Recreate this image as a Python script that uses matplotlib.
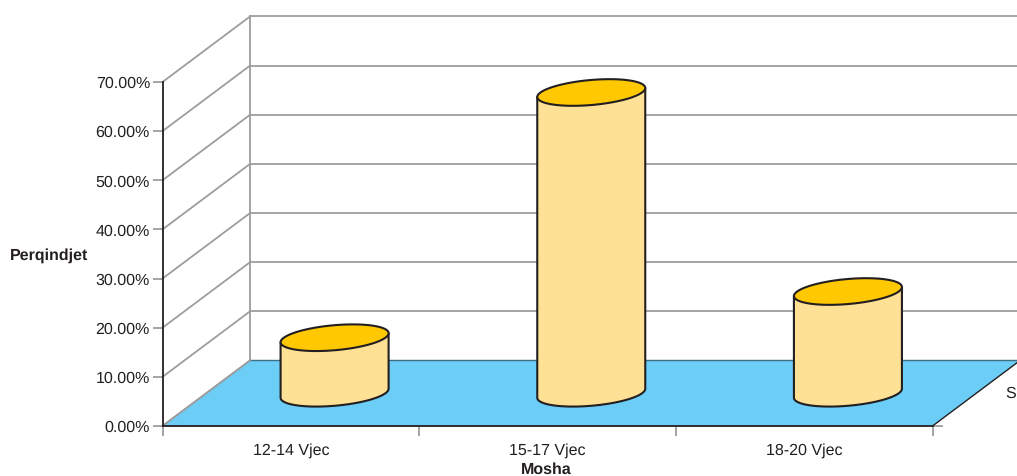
import numpy as np
import matplotlib
matplotlib.use("Agg")
import matplotlib.pyplot as plt
from matplotlib.patches import Polygon
from matplotlib.transforms import ScaledTranslation

plt.rcParams['font.family'] = ['Liberation Sans', 'DejaVu Sans']
plt.rcParams['text.hinting'] = 'no_hinting'
plt.rcParams['text.hinting_factor'] = 1

categories = ["12-14 Vjec", "15-17 Vjec", "18-20 Vjec"]
values = [11.3, 61.2, 20.7]
y_ticks = [0, 10, 20, 30, 40, 50, 60, 70]

DARK = "#231f20"
GRAY = "#9d9d9f"
FLOOR = "#6ccdf7"
BODY = "#ffe196"
TOP = "#ffc800"

# depth of the fake 3d box, in data units
depth_x = 0.341
depth_y = 13.33
# cylinder ellipse: half width, half height, tilt
ell_a = 0.2104
ell_b = 2.55
ell_s = 0.92


def ellipse_arc(cx, cy, t):
    return cx + ell_a * np.cos(t), cy + ell_s * np.cos(t) + ell_b * np.sin(t)


def draw_cylinder(ax, pos, value):
    cx = pos + 0.5 + depth_x / 2
    base = depth_y / 2
    top = base + value

    t = np.linspace(np.pi, 2 * np.pi, 60)
    bx, by = ellipse_arc(cx, base, t)
    body = np.vstack([[cx - ell_a, top - ell_s], np.column_stack([bx, by]), [cx + ell_a, top + ell_s]])
    ax.add_patch(Polygon(body, closed=True, facecolor=BODY, edgecolor=DARK, linewidth=1.5,
                         joinstyle="round", zorder=5, clip_on=False))

    t = np.linspace(0, 2 * np.pi, 120)
    tx, ty = ellipse_arc(cx, top, t)
    ax.add_patch(Polygon(np.column_stack([tx, ty]), closed=True, facecolor=TOP, edgecolor=DARK,
                         linewidth=1.5, zorder=6, clip_on=False))


fig = plt.figure(figsize=(10.17, 4.77), dpi=100)
ax = fig.add_axes([162.5 / 1017, (477 - 427.0) / 477, 770 / 1017, 344 / 477])
ax.set_xlim(0, 3)
ax.set_ylim(0, 70)
ax.patch.set_visible(False)

# side and back walls
for v in y_ticks:
    ax.plot([0, depth_x], [v, v + depth_y], color=GRAY, lw=1.3, zorder=1, clip_on=False)
    if v > 0:
        ax.plot([depth_x, 3 + depth_x], [v + depth_y, v + depth_y], color=GRAY, lw=1.3, zorder=1, clip_on=False)
ax.plot([depth_x, depth_x], [depth_y, 70 + depth_y], color=GRAY, lw=1.3, zorder=1, clip_on=False)

# floor
floor = [[0, 0], [3, 0], [3 + depth_x, depth_y], [depth_x, depth_y]]
ax.add_patch(Polygon(floor, closed=True, facecolor=FLOOR, edgecolor="none", zorder=2, clip_on=False))
ax.plot([depth_x, 3 + depth_x], [depth_y, depth_y], color="#3f6f85", lw=1.0, zorder=3, clip_on=False)
ax.plot([3, 3 + depth_x], [0, depth_y], color=DARK, lw=1.0, zorder=3, clip_on=False)
ax.plot([0, depth_x], [0, depth_y], color=GRAY, lw=1.3, zorder=3, clip_on=False)
# small stub of the depth axis
ax.plot([3, 3 + 10 / 256.67], [0, 0], color=GRAY, lw=1.3, zorder=1, clip_on=False)

for i, val in enumerate(values):
    draw_cylinder(ax, i, val)

for side in ["top", "right"]:
    ax.spines[side].set_visible(False)
for side in ["left", "bottom"]:
    ax.spines[side].set_color(DARK)
    ax.spines[side].set_linewidth(1.3)
    ax.spines[side].set_zorder(4)

ax.set_yticks(y_ticks)
ax.set_yticklabels(["{:.2f}%".format(v) for v in y_ticks])
ax.tick_params(axis="y", length=7.5, width=1.3, color=GRAY, pad=1.5, labelsize=11.3, labelcolor=DARK)
for lbl in ax.get_yticklabels():
    lbl.set_transform(lbl.get_transform() + ScaledTranslation(0, 0.6 / 100, fig.dpi_scale_trans))
ax.set_xticks([0, 1, 2, 3])
ax.set_xticklabels([])
ax.tick_params(axis="x", which="major", length=7.5, width=1.3, color=GRAY)
ax.set_xticks([0.5, 1.5, 2.5], minor=True)
ax.set_xticklabels(categories, minor=True)
ax.tick_params(axis="x", which="minor", length=0, pad=11.5, labelsize=11.4, labelcolor=DARK)

fig.text(49 / 1017, 1 - 255.5 / 477, "Perqindjet", ha="center", va="center", fontsize=11.7,
         fontweight="bold", color=DARK)
fig.text(546.5 / 1017, 1 - 474 / 477, "Mosha", ha="center", va="baseline", fontsize=11.3,
         fontweight="bold", color=DARK)
fig.text(1005 / 1017, 1 - 393.5 / 477, "S", ha="left", va="center", fontsize=11.4, color=DARK)

plt.savefig("out.png", dpi=100)
